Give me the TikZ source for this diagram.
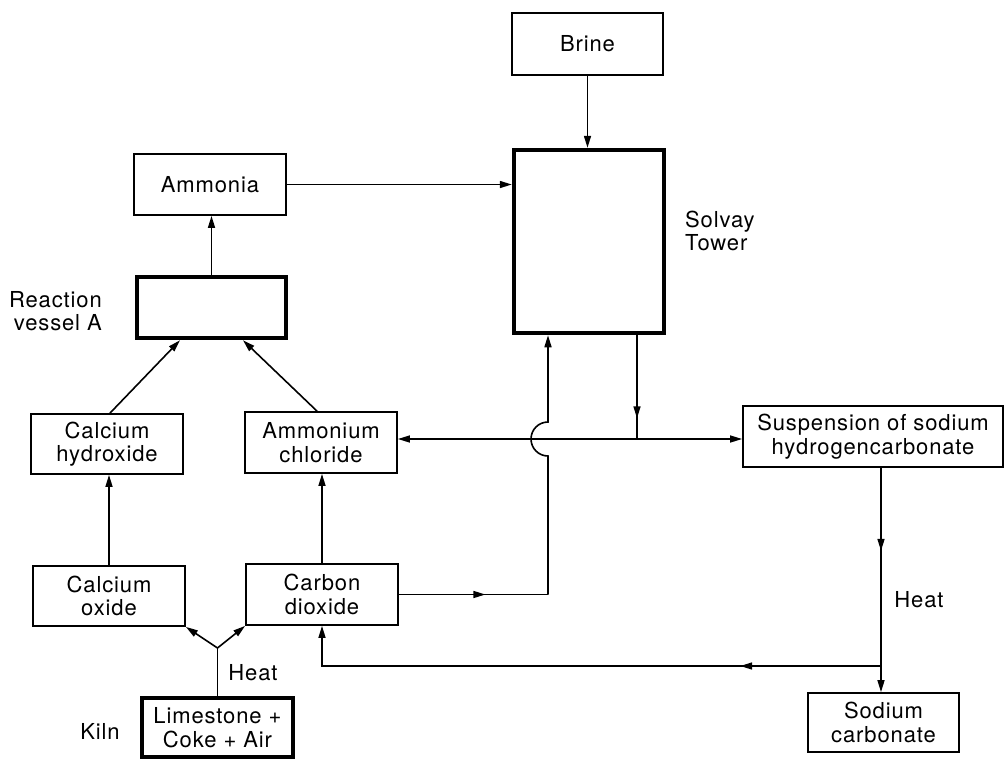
\documentclass[tikz,border=0pt]{standalone}
\usepackage{fontspec}
\setmainfont{TeX Gyre Heros}[LetterSpace=4]
\usetikzlibrary{arrows.meta,decorations.markings}
\newcommand{\diaglbl}{\fontsize{22}{23.5}\selectfont}
\begin{document}
\begin{tikzpicture}[x=1pt,y=-1pt,
  box/.style={draw,line width=1.8pt,inner sep=0pt,align=center,font=\diaglbl},
  thickbox/.style={box,line width=4.5pt},
  conn/.style={line width=1.6pt},
  arr/.style={conn,-{Triangle[length=12pt,width=7pt]}},
  midarr/.style={conn,postaction={decorate},decoration={markings,mark=at position #1 with {\arrow{Triangle[length=12pt,width=7pt]}}}},
  lab/.style={font=\diaglbl,inner sep=0pt}
]
\useasboundingbox (0,0) rectangle (1005,761);

% boxes
\node[box,minimum width=151pt,minimum height=62pt] (brine) at (587.5,44) {Brine};
\node[thickbox,minimum width=150pt,minimum height=183pt] (tower) at (589,241.5) {};
\node[box,minimum width=152pt,minimum height=61pt] (ammonia) at (210,184.5) {Ammonia};
\node[thickbox,minimum width=149pt,minimum height=61pt] (vessel) at (211.5,307.5) {};
\node[box,minimum width=152pt,minimum height=60pt] (calhyd) at (107,444) {Calcium\\hydroxide};
\node[box,minimum width=152pt,minimum height=61pt] (nh4cl) at (321,442.5) {Ammonium\\chloride};
\node[box,minimum width=260pt,minimum height=61pt] (susp) at (873,436.5) {Suspension of sodium\\hydrogencarbonate};
\node[box,minimum width=152pt,minimum height=60pt] (caox) at (109,596) {Calcium\\oxide};
\node[box,minimum width=152pt,minimum height=61pt] (co2) at (322,594.5) {Carbon\\dioxide};
\node[thickbox,minimum width=151pt,minimum height=59pt] (kiln) at (217.5,727.5) {Limestone +\\Coke + Air};
\node[box,minimum width=151pt,minimum height=59pt] (na2co3) at (883.5,722.5) {Sodium\\carbonate};

% labels
\node[lab,align=right,anchor=east] (rvlab) at (102,311) {Reaction\\vessel A};
\node[lab,align=left,anchor=west] (stlab) at (685,231) {Solvay\\Tower};
\node[lab] (heat1) at (253,673) {Heat};
\node[lab] (heat2) at (919,600) {Heat};
\node[lab] (kilnlab) at (100,731) {Kiln};

% coordinates
\coordinate (tin) at ([xshift=-41pt]tower.south);
\coordinate (tout) at ([xshift=48pt]tower.south);
\coordinate (hop) at (548,439);
\coordinate (split) at (637,439);
\coordinate (J) at (217.5,648);
\coordinate (sdown) at ([xshift=8pt]susp.south);
\coordinate (ret) at (881,666);

% connectors
\draw[arr] (brine.south) -- (brine.south |- tower.north);
\draw[arr] (ammonia.east) -- (ammonia.east -| tower.west);
\draw[arr] (vessel.north) -- (vessel.north |- ammonia.south);
\draw[arr] ([xshift=3pt]calhyd.north) -- ([xshift=-31.5pt]vessel.south);
\draw[arr] ([xshift=-4pt]nh4cl.north) -- ([xshift=31.5pt]vessel.south);
\draw[arr] (caox.north) -- (caox.north |- calhyd.south);
\draw[arr] (co2.north) -- (co2.north |- nh4cl.south);
\draw[conn] (kiln.north) -- (J);
\draw[arr] (J) -- (caox.south east);
\draw[arr] (J) -- (co2.south west);

\draw[midarr=0.58] (co2.east) -- (tin |- co2.east);
\draw[arr] (tin |- co2.east) -- ([yshift=-17pt]hop) arc[start angle=90,end angle=270,radius=17] -- (tin);

\draw[midarr=0.8] (tout) -- (split);
\draw[arr] (split) -- (split -| susp.west);
\draw[arr] (split) -- (split -| nh4cl.east);

\draw[arr,midarr=0.37] (sdown) -- (sdown |- na2co3.north);
\draw[arr,midarr=0.235] (ret) -- (ret -| co2.south) -- (co2.south);
\end{tikzpicture}
\end{document}
